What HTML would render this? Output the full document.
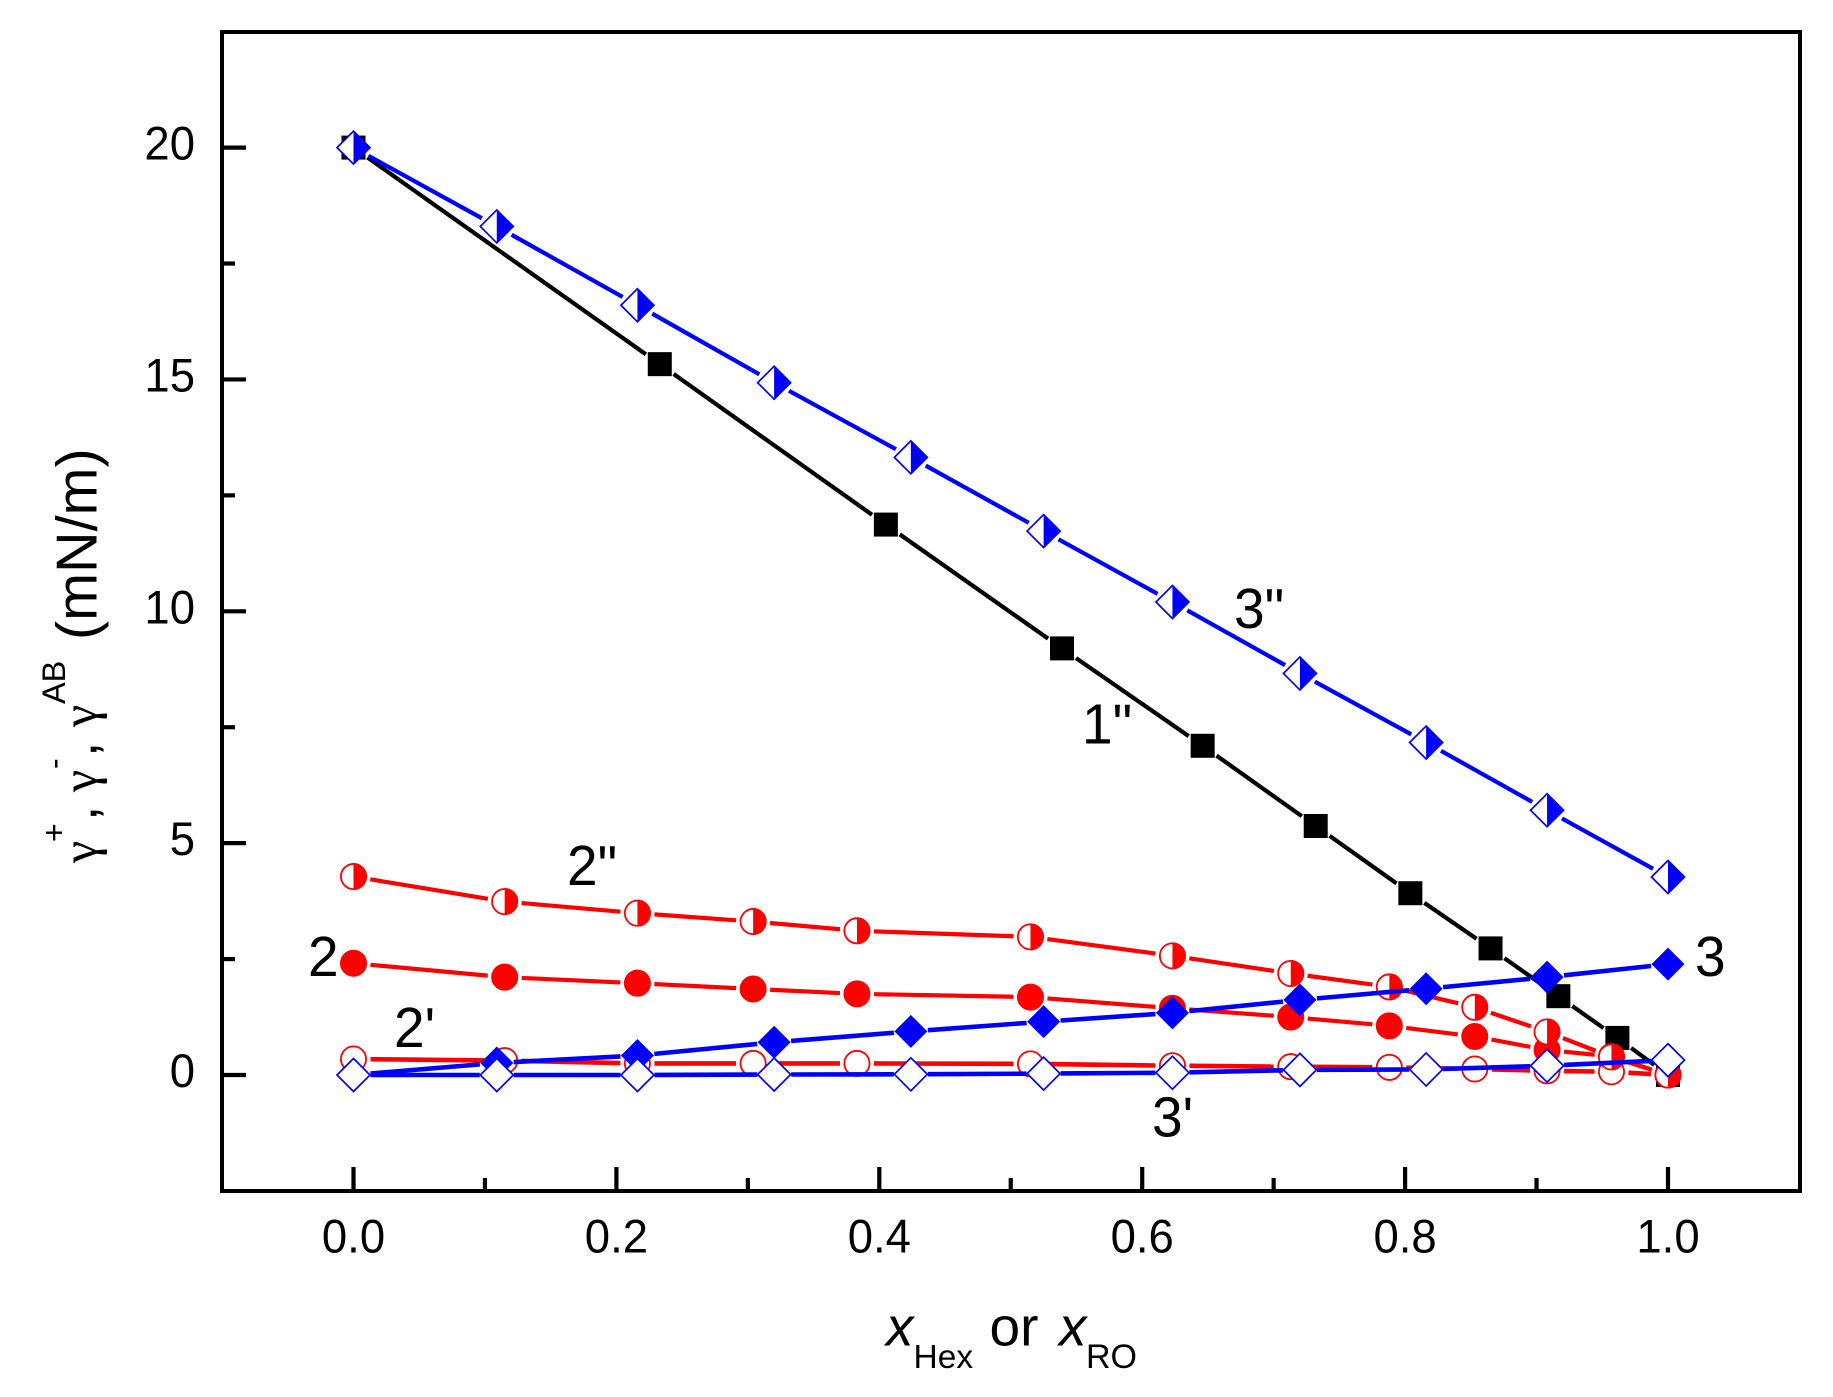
<!DOCTYPE html>
<html lang="en">
<head>
<meta charset="utf-8">
<title>Surface tension components chart</title>
<style>
html,body{margin:0;padding:0;background:#fff;}
svg{display:block;}
text{font-family:"Liberation Sans",Arial,sans-serif;fill:#000;}
</style>
</head>
<body>
<svg id="chart" xmlns="http://www.w3.org/2000/svg" width="1833" height="1397" viewBox="0 0 1833 1397">
  <rect x="0" y="0" width="1833" height="1397" fill="#fff"/>
  <g id="ticks"></g>
  <g id="tick-labels"></g>
  <g id="series"></g>
  <rect x="222" y="32" width="1578" height="1159" fill="none" stroke="#000" stroke-width="4"/>

  <g>
    <text transform="translate(96.7,863) rotate(-90)" font-size="50" style="font-family:'Liberation Serif',serif">γ</text>
    <text transform="translate(65,842) rotate(-90)" font-size="32">+</text>
    <text transform="translate(96.7,821) rotate(-90)" font-size="55">,</text>
    <text transform="translate(96.7,792) rotate(-90)" font-size="50" style="font-family:'Liberation Serif',serif">γ</text>
    <text transform="translate(65,769) rotate(-90)" font-size="32">-</text>
    <text transform="translate(96.7,757) rotate(-90)" font-size="55">,</text>
    <text transform="translate(96.7,727) rotate(-90)" font-size="50" style="font-family:'Liberation Serif',serif">γ</text>
    <text transform="translate(65,704) rotate(-90)" font-size="32.5">AB</text>
    <text transform="translate(96.7,640) rotate(-90)" font-size="57.5">(mN/m)</text>
  </g>

  <g>
    <text x="886" y="1345.7" font-size="55" font-style="italic">x</text>
    <text x="913.5" y="1368" font-size="33.5">Hex</text>
    <text x="989.5" y="1345.7" font-size="55">or</text>
    <text x="1059" y="1345.7" font-size="55" font-style="italic">x</text>
    <text x="1086" y="1368" font-size="34">RO</text>
  </g>

  <g>
    <text transform="translate(1082,743.5) scale(1,1.03)" font-size="55">1"</text>
    <text transform="translate(308,976) scale(1,1.03)" font-size="55">2</text>
    <text transform="translate(394,1047) scale(1,1.03)" font-size="55">2'</text>
    <text transform="translate(567,885) scale(1,1.03)" font-size="55">2"</text>
    <text transform="translate(1695,976) scale(1,1.03)" font-size="55">3</text>
    <text transform="translate(1152,1136.7) scale(1,1.03)" font-size="55">3'</text>
    <text transform="translate(1234,628) scale(1,1.03)" font-size="55">3"</text>
  </g>
</svg>
<script>
// ---- chart data ----
var xMajorTicks = ['0.0', '0.2', '0.4', '0.6', '0.8', '1.0'];
var xMinorTicks = [0.1, 0.3, 0.5, 0.7, 0.9];
var yMajorTicks = ['0', '5', '10', '15', '20'];
var yMinorTicks = [2.5, 7.5, 12.5, 17.5];

var xSquares = [0, 0.233, 0.405, 0.539, 0.646, 0.732, 0.804, 0.865, 0.9166, 0.9615, 1.0];
var series1dd = [20, 15.33, 11.87, 9.2, 7.1, 5.37, 3.92, 2.73, 1.7, 0.8, 0];

var xCircles = [0, 0.115, 0.216, 0.304, 0.383, 0.515, 0.623, 0.713, 0.788, 0.853, 0.908, 0.957, 1.0];
var series2 = [2.41, 2.11, 1.98, 1.855, 1.75, 1.68, 1.44, 1.25, 1.06, 0.83, 0.54, 0.4, 0];
var series2p = [0.345, 0.31, 0.25, 0.25, 0.25, 0.24, 0.2, 0.18, 0.165, 0.13, 0.09, 0.07, 0];
var series2dd = [4.28, 3.74, 3.49, 3.31, 3.11, 2.98, 2.57, 2.19, 1.9, 1.46, 0.93, 0.39, 0];

var xDiamonds = [0, 0.109, 0.216, 0.32, 0.424, 0.525, 0.623, 0.72, 0.816, 0.908, 1.0];
var series3 = [0, 0.26, 0.42, 0.705, 0.94, 1.15, 1.34, 1.62, 1.86, 2.11, 2.39];
var series3p = [0, 0, 0, 0.01, 0.015, 0.03, 0.05, 0.11, 0.12, 0.2, 0.32];
var series3dd = [20, 18.3, 16.6, 14.93, 13.32, 11.73, 10.2, 8.66, 7.17, 5.71, 4.27];

// ---- axis functions ----
function xScale(v) { return 353.5 + v * 1314.5; }
function yScale(v) { return 1075 - v * 46.37; }

var NS = 'http://www.w3.org/2000/svg';
var BLUE = '#0000ff', RED = '#ff0000', BLACK = '#000000';
var GAP = 17, R = 13.5, SQ = 12, DI = 16.5, TICK = 4.2;

function mk(tag, parent, attrs) {
  var el = document.createElementNS(NS, tag);
  for (var k in attrs) { el.setAttribute(k, attrs[k]); }
  parent.appendChild(el);
  return el;
}

// ---- ticks and labels ----
var tickG = document.getElementById('ticks');
var labelG = document.getElementById('tick-labels');

xMajorTicks.forEach(function (t) {
  var x = xScale(parseFloat(t));
  var tick = mk('line', tickG, { x1: x, x2: x, y1: 1191, y2: 1167, stroke: BLACK, 'stroke-width': TICK });
  
  
  var lab = mk('text', labelG, { transform: 'translate(' + x + ',1252.5) scale(1,1.04)', 'font-size': 45.5, 'text-anchor': 'middle' });
  lab.textContent = t;
  
  
});
xMinorTicks.forEach(function (t) {
  var x = xScale(t);
  var tick = mk('line', tickG, { x1: x, x2: x, y1: 1191, y2: 1178, stroke: BLACK, 'stroke-width': TICK });
  
  
});
yMajorTicks.forEach(function (t) {
  var y = yScale(parseFloat(t));
  var tick = mk('line', tickG, { x1: 222, x2: 246, y1: y, y2: y, stroke: BLACK, 'stroke-width': TICK });
  
  
  var lab = mk('text', labelG, { transform: 'translate(195,' + (y + 12) + ') scale(1,1.04)', 'font-size': 45.5, 'text-anchor': 'end' });
  lab.textContent = t;
  
  
});
yMinorTicks.forEach(function (t) {
  var y = yScale(t);
  var tick = mk('line', tickG, { x1: 222, x2: 235, y1: y, y2: y, stroke: BLACK, 'stroke-width': TICK });
  
  
});

// ---- marker shapes ----
function square(g, x, y, c) {
  mk('rect', g, { x: x - SQ, y: y - SQ, width: 2 * SQ, height: 2 * SQ, fill: c });
}
function circle(g, x, y, c, mode) {
  mk('circle', g, { cx: x, cy: y, r: R - 0.9, fill: mode === 'full' ? c : '#fff', stroke: c, 'stroke-width': 1.8 });
  if (mode === 'half') {
    mk('path', g, { d: 'M' + x + ' ' + (y - R) + 'A' + R + ' ' + R + ' 0 0 1 ' + x + ' ' + (y + R) + 'Z', fill: c });
  }
}
function diamond(g, x, y, c, mode) {
  var pts = [x, y - DI, x + DI, y, x, y + DI, x - DI, y].join(' ');
  mk('polygon', g, { points: pts, fill: mode === 'full' ? c : '#fff', stroke: c, 'stroke-width': mode === 'full' ? 0 : 1.7 });
  if (mode === 'half') {
    mk('polygon', g, { points: [x, y - DI, x + DI, y, x, y + DI].join(' '), fill: c });
  }
}

// ---- series drawing: segments are broken around each marker ----
function drawSeries(name, xs, ys, color, width, marker, mode) {
  var g = mk('g', document.getElementById('series'), {});
  
  
  for (var i = 0; i < xs.length - 1; i++) {
    var x1 = xScale(xs[i]), y1 = yScale(ys[i]), x2 = xScale(xs[i + 1]), y2 = yScale(ys[i + 1]);
    var dx = x2 - x1, dy = y2 - y1, len = Math.sqrt(dx * dx + dy * dy);
    if (len <= 2 * GAP) { continue; }
    var ux = dx / len, uy = dy / len;
    var seg = mk('line', g, { x1: x1 + ux * GAP, y1: y1 + uy * GAP, x2: x2 - ux * GAP, y2: y2 - uy * GAP, stroke: color, 'stroke-width': width });
    
    
  }
  for (var j = 0; j < xs.length; j++) {
    var pg = mk('g', g, {});
    
    
    marker(pg, xScale(xs[j]), yScale(ys[j]), color, mode);
  }
}

drawSeries('1-double-prime', xSquares, series1dd, BLACK, 4.2, square);
drawSeries('2', xCircles, series2, RED, 4.2, circle, 'full');
drawSeries('2-prime', xCircles, series2p, RED, 4.6, circle, 'open');
drawSeries('2-double-prime', xCircles, series2dd, RED, 4.2, circle, 'half');
drawSeries('3', xDiamonds, series3, BLUE, 4.6, diamond, 'full');
drawSeries('3-prime', xDiamonds, series3p, BLUE, 4.6, diamond, 'open');
drawSeries('3-double-prime', xDiamonds, series3dd, BLUE, 4.2, diamond, 'half');
</script>
</body>
</html>
